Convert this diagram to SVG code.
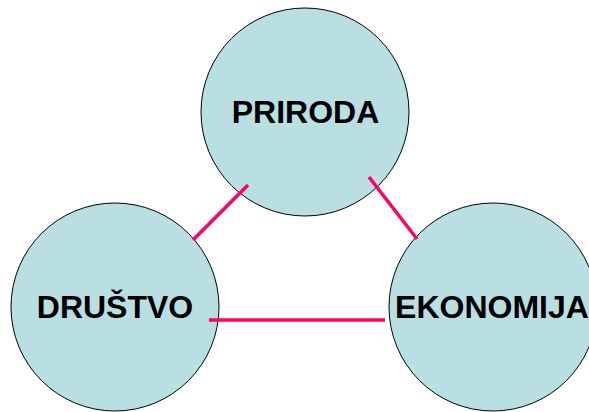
<svg xmlns="http://www.w3.org/2000/svg" width="589" height="412" viewBox="0 0 589 412">
<style>
.node{fill:#B9DFE3;stroke:#000;stroke-width:1}
.lbl{font-family:"Liberation Sans",Arial,sans-serif;font-weight:bold;font-size:32px;fill:#000;text-anchor:middle}
.con{stroke:#FF0066;stroke-width:3.5;fill:none}
</style>
<rect width="589" height="412" fill="#fff"/>
<g id="priroda"><circle class="node" cx="305" cy="112" r="104"/><text class="lbl" x="305.5" y="123">PRIRODA</text></g>
<g id="drustvo"><circle class="node" cx="115" cy="307" r="104"/><text class="lbl" x="115" y="318">DRUŠTVO</text></g>
<g id="ekonomija"><circle class="node" cx="493" cy="307" r="104"/><text class="lbl" x="492" y="318">EKONOMIJA</text></g>
<g id="connectors">
<line class="con" x1="193" y1="240" x2="248" y2="185"/>
<line class="con" x1="369" y1="177" x2="417" y2="239"/>
<line class="con" x1="209" y1="320" x2="385" y2="320"/>
</g>
</svg>
